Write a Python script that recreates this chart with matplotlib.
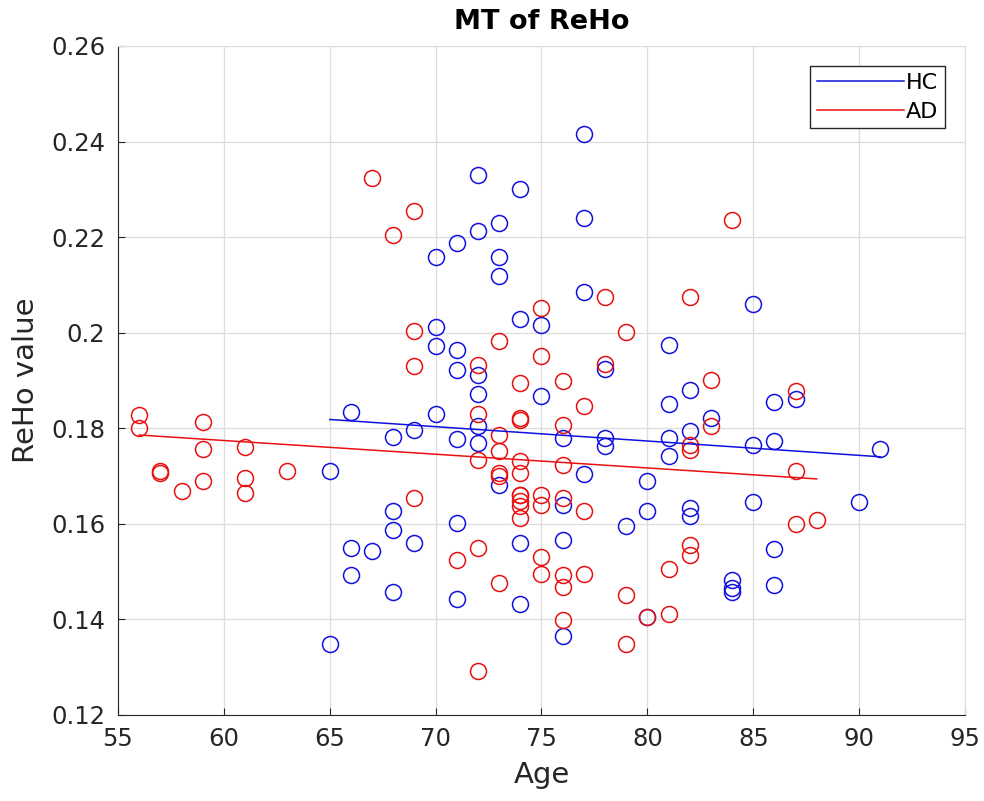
import numpy as np
import matplotlib.pyplot as plt

# HC (healthy controls): age and ReHo value
hc_age = [65, 65, 66, 66, 66, 67, 68, 68, 68, 68,
          69, 69, 70, 70, 70, 70,
          71, 71, 71, 71, 71, 71,
          72, 72, 72, 72, 72, 72,
          73, 73, 73, 73,
          74, 74, 74, 74,
          75, 75,
          76, 76, 76, 76,
          77, 77, 77, 77,
          78, 78, 78,
          79, 80, 80, 80,
          81, 81, 81, 81,
          82, 82, 82, 82,
          83, 84, 84, 84,
          85, 85, 85,
          86, 86, 86, 86,
          87, 90, 91]
hc_val = [0.1710, 0.1348, 0.1833, 0.1550, 0.1492, 0.1544, 0.1781, 0.1627, 0.1588, 0.1458,
          0.1796, 0.1560, 0.2158, 0.2012, 0.1973, 0.1829,
          0.2187, 0.1963, 0.1922, 0.1777, 0.1602, 0.1442,
          0.2330, 0.2212, 0.1912, 0.1871, 0.1804, 0.1769,
          0.2229, 0.2158, 0.2119, 0.1681,
          0.2300, 0.2029, 0.1560, 0.1433,
          0.2017, 0.1867,
          0.1779, 0.1640, 0.1567, 0.1365,
          0.2415, 0.2239, 0.2085, 0.1704,
          0.1925, 0.1779, 0.1762,
          0.1596, 0.1690, 0.1627, 0.1405,
          0.1975, 0.1850, 0.1779, 0.1742,
          0.1881, 0.1794, 0.1633, 0.1617,
          0.1821, 0.1483, 0.1465, 0.1458,
          0.2060, 0.1765, 0.1646,
          0.1854, 0.1773, 0.1548, 0.1471,
          0.1862, 0.1646, 0.1756]

# AD patients: age and ReHo value
ad_age = [56, 56, 57, 57, 58, 59, 59, 59, 61, 61, 61, 63,
          67, 68, 69, 69, 69, 69,
          71, 72, 72, 72, 72, 72,
          73, 73, 73, 73, 73, 73,
          74, 74, 74, 74, 74, 74, 74, 74, 74, 74,
          75, 75, 75, 75, 75, 75,
          76, 76, 76, 76, 76, 76, 76,
          77, 77, 77,
          78, 78, 79, 79, 79, 80, 81, 81,
          82, 82, 82, 82, 82,
          83, 83, 84, 87, 87, 87, 88]
ad_val = [0.1827, 0.1800, 0.1710, 0.1706, 0.1669, 0.1813, 0.1756, 0.1690, 0.1760, 0.1696, 0.1665, 0.1710,
          0.2323, 0.2204, 0.2254, 0.2004, 0.1930, 0.1654,
          0.1525, 0.1933, 0.1829, 0.1733, 0.1550, 0.1292,
          0.1983, 0.1785, 0.1752, 0.1706, 0.1700, 0.1477,
          0.1894, 0.1822, 0.1817, 0.1731, 0.1706, 0.1660, 0.1648, 0.1637, 0.1612, 0.1660,
          0.2052, 0.1952, 0.1660, 0.1640, 0.1531, 0.1494,
          0.1898, 0.1807, 0.1723, 0.1655, 0.1492, 0.1467, 0.1398,
          0.1846, 0.1627, 0.1494,
          0.2075, 0.1935, 0.2002, 0.1452, 0.1348, 0.1405, 0.1506, 0.1412,
          0.2075, 0.1765, 0.1754, 0.1556, 0.1535,
          0.1900, 0.1804, 0.2235, 0.1877, 0.1710, 0.1600, 0.1608]

x_ticks = [55, 60, 65, 70, 75, 80, 85, 90, 95]
y_ticks = [0.12, 0.14, 0.16, 0.18, 0.2, 0.22, 0.24, 0.26]
y_labels = ['0.12', '0.14', '0.16', '0.18', '0.2', '0.22', '0.24', '0.26']

hc_color = '#1010e0'
ad_color = '#e81010'
txt = '#262626'

fig = plt.figure(figsize=(9.84, 8.01), dpi=100)
ax = fig.add_axes([0.1199, 0.1074, 0.8608, 0.8352])

ax.plot(hc_age, hc_val, 'o', mfc='none', mec=hc_color, ms=11.5, mew=1.1)
ax.plot(ad_age, ad_val, 'o', mfc='none', mec=ad_color, ms=11.5, mew=1.1)

# linear fits
for age, val, col, lab in [(hc_age, hc_val, hc_color, 'HC'), (ad_age, ad_val, ad_color, 'AD')]:
    p = np.polyfit(age, val, 1)
    xs = np.array([min(age), max(age)])
    ax.plot(xs, np.polyval(p, xs), '-', color=col, lw=1.1, label=lab)

ax.set_xlim(55, 95)
ax.set_ylim(0.12, 0.26)
ax.set_xticks(x_ticks)
ax.set_yticks(y_ticks)
ax.set_yticklabels(y_labels)
ax.tick_params(direction='in', labelsize=17.5, length=5, colors=txt, pad=9)
ax.grid(True, color='#dcdcdc', lw=0.9)
ax.set_axisbelow(True)
for s in ['top', 'right']:
    ax.spines[s].set_color('#dcdcdc')
for s in ['left', 'bottom']:
    ax.spines[s].set_color(txt)

ax.set_xlabel('Age', fontsize=21, color=txt, labelpad=7)
ax.set_ylabel('ReHo value', fontsize=21, color=txt, labelpad=8)
ax.set_title('MT of ReHo', fontsize=19.5, fontweight='bold', pad=12)

leg = ax.legend(loc='upper right', fontsize=16, fancybox=False, framealpha=1,
                edgecolor=txt, handlelength=3.9, borderaxespad=0.9,
                handletextpad=0.1, borderpad=0.3, labelspacing=0.4)
leg.get_frame().set_linewidth(1.0)

plt.savefig('out.png', dpi=100)
